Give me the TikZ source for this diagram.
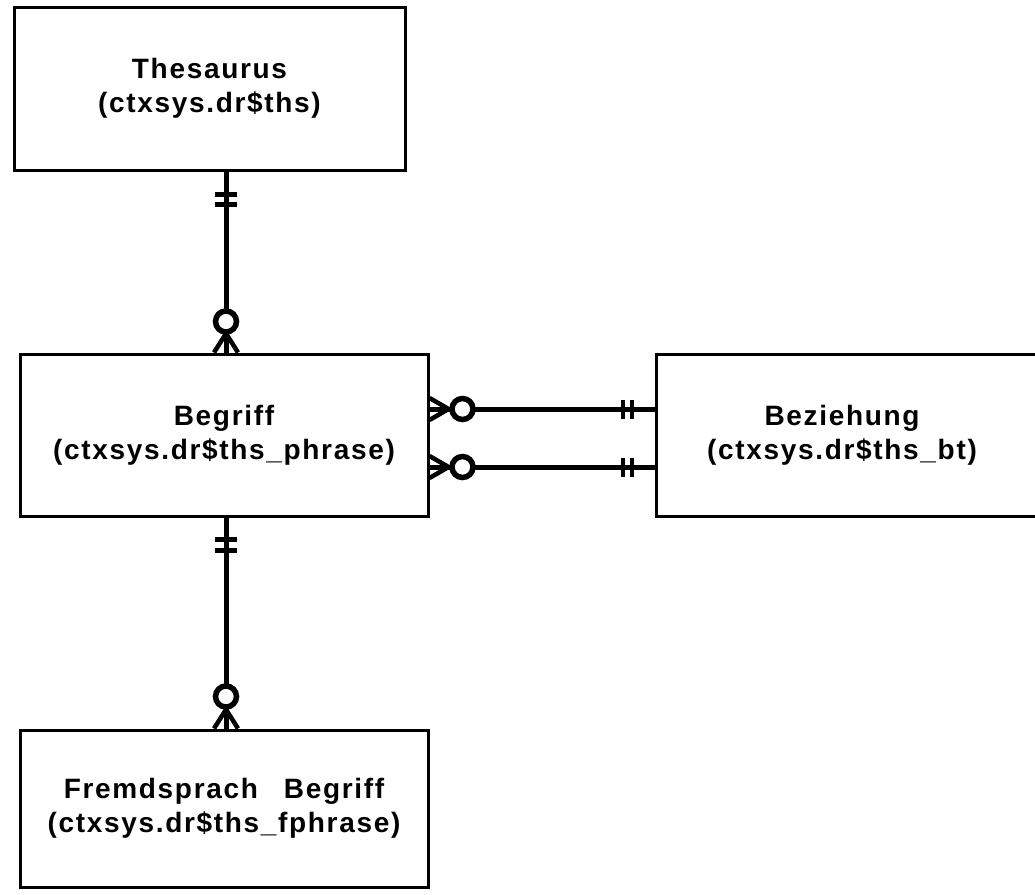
\documentclass[tikz,border=0pt]{standalone}
\usepackage{fontspec}
\setmainfont{Liberation Sans}[LetterSpace=6]
\usetikzlibrary{calc}
\tikzset{
  entity/.style={draw, line width=3pt, rectangle, align=center, inner sep=0pt,
    font=\bfseries\fontsize{28}{34}\selectfont},
  conn/.style={line width=5pt},
  barmark/.style={line width=4.5pt},
  ring/.style={line width=5.5pt, fill=white},
  foot/.style={line width=4.5pt}
}
\begin{document}
\begin{tikzpicture}[x=1pt,y=-1pt]
\useasboundingbox (0,0) rectangle (1035,894);
\node[entity, minimum width=391pt, minimum height=163pt] (T) at (209.5,88.5) {Thesaurus\\(ctxsys.dr\$ths)};
\node[entity, minimum width=408pt, minimum height=162pt] (B) at (224,435) {Begriff\\(ctxsys.dr\$ths\_phrase)};
\node[entity, minimum width=390pt, minimum height=162pt, anchor=west] (Z) at (655,435) {};
\node[font=\bfseries\fontsize{28}{34}\selectfont, align=center] (Zt) at (842,435) {Beziehung\\(ctxsys.dr\$ths\_bt)};
\node[entity, minimum width=408pt, minimum height=157pt] (F) at (224,808.5) {Fremdsprach\hspace{26pt}Begriff\\(ctxsys.dr\$ths\_fphrase)};

\coordinate (vx) at (226,0);
\coordinate (hy1) at (0,409);
\coordinate (hy2) at (0,467);

% Thesaurus -- Begriff
\coordinate (a1) at (T.south -| vx);
\coordinate (a2) at (B.north -| vx);
\draw[conn] (a1) -- (a2);
\draw[barmark] ($(a1)+(-11,23)$) -- ($(a1)+(11,23)$);
\draw[barmark] ($(a1)+(-11,33)$) -- ($(a1)+(11,33)$);
\draw[foot] ($(a2)+(0,-19)$) -- ($(a2)+(-12,0)$);
\draw[foot] ($(a2)+(0,-19)$) -- ($(a2)+(12,0)$);
\draw[ring] ($(a2)+(0,-31)$) circle[radius=10.5];

% Begriff -- Fremdsprach Begriff
\coordinate (a3) at (B.south -| vx);
\coordinate (a4) at (F.north -| vx);
\draw[conn] (a3) -- (a4);
\draw[barmark] ($(a3)+(-11,22)$) -- ($(a3)+(11,22)$);
\draw[barmark] ($(a3)+(-11,33)$) -- ($(a3)+(11,33)$);
\draw[foot] ($(a4)+(0,-19)$) -- ($(a4)+(-12,0)$);
\draw[foot] ($(a4)+(0,-19)$) -- ($(a4)+(12,0)$);
\draw[ring] ($(a4)+(0,-32)$) circle[radius=10.5];

% Begriff -- Beziehung (1)
\coordinate (c1) at (B.east |- hy1);
\coordinate (c2) at (Z.west |- hy1);
\draw[conn] (c1) -- (c2);
\draw[barmark] ($(c2)+(-32,-9.5)$) -- ($(c2)+(-32,9.5)$);
\draw[barmark] ($(c2)+(-23,-9.5)$) -- ($(c2)+(-23,9.5)$);
\draw[foot] ($(c1)+(19,0)$) -- ($(c1)+(0,-11)$);
\draw[foot] ($(c1)+(19,0)$) -- ($(c1)+(0,11)$);
\draw[ring] ($(c1)+(33,0)$) circle[radius=10.5];

% Begriff -- Beziehung (2)
\coordinate (d1) at (B.east |- hy2);
\coordinate (d2) at (Z.west |- hy2);
\draw[conn] (d1) -- (d2);
\draw[barmark] ($(d2)+(-32,-9.5)$) -- ($(d2)+(-32,9.5)$);
\draw[barmark] ($(d2)+(-23,-9.5)$) -- ($(d2)+(-23,9.5)$);
\draw[foot] ($(d1)+(19,0)$) -- ($(d1)+(0,-11)$);
\draw[foot] ($(d1)+(19,0)$) -- ($(d1)+(0,11)$);
\draw[ring] ($(d1)+(33,0)$) circle[radius=10.5];
\end{tikzpicture}
\end{document}
